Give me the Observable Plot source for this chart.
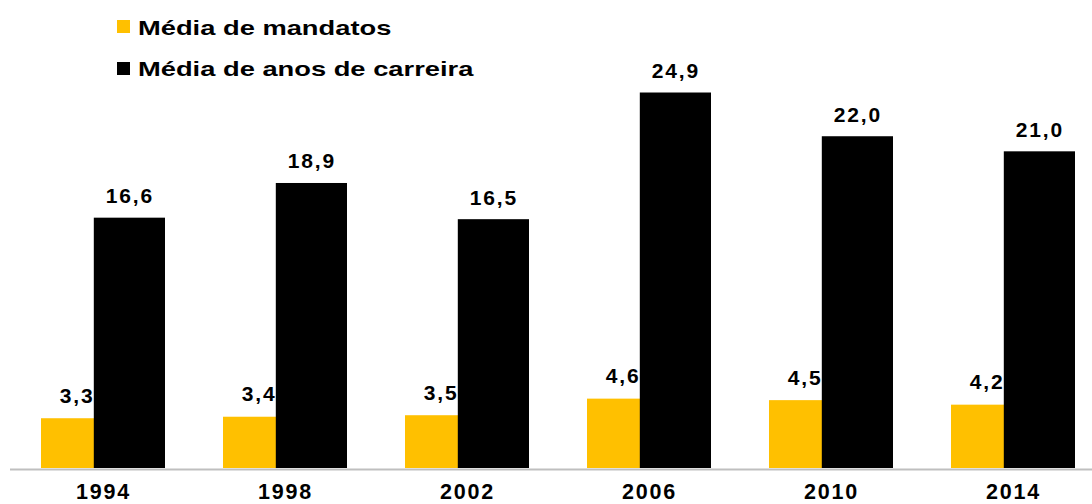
<!DOCTYPE html>
<html>
<head>
<meta charset="utf-8">
<script src="https://cdn.jsdelivr.net/npm/d3@7"></script>
<script src="https://cdn.jsdelivr.net/npm/@observablehq/plot@0.6"></script>
<style>
  html, body { margin: 0; padding: 0; background: #fff; }
  #wrap { position: relative; width: 1092px; height: 504px; overflow: hidden; font-family: "Liberation Sans", Arial, sans-serif; }
  .sw { position: absolute; width: 13px; height: 13px; }
  .lt { position: absolute; left: 138px; font-size: 21px; font-weight: bold; line-height: 21px; color: #000; white-space: nowrap; transform: scaleX(1.3); transform-origin: 0 50%; }
</style>
</head>
<body>
<div id="wrap"></div>
<script>
const years = ["1994", "1998", "2002", "2006", "2010", "2014"];
const mandatos = [3.3, 3.4, 3.5, 4.6, 4.5, 4.2];
const carreira = [16.6, 18.9, 16.5, 24.9, 22.0, 21.0];
const seriesNames = ["Média de mandatos", "Média de anos de carreira"];
const seriesColors = ["#FFC000", "#000000"];

const orangeRows = years.map((y, i) => ({year: y, value: mandatos[i]}));
const blackRows = years.map((y, i) => ({year: y, value: carreira[i]}));
const fmt = v => v.toFixed(1).replace(".", ",");

const inset = 52.8;
const labelFont = {fontSize: 21, fontWeight: "bold", fill: "#000", lineAnchor: "bottom", textAnchor: "middle"};

const chart = Plot.plot({
  width: 1092,
  height: 504,
  marginLeft: 10,
  marginRight: 0,
  marginTop: 0,
  marginBottom: 36,
  style: {fontFamily: "'Liberation Sans', Arial, sans-serif", letterSpacing: "1.8px", background: "#fff"},
  x: {domain: years, range: [-19.56, 1135.0], padding: 0.3197, align: 0.5, label: null},
  y: {domain: [0, 25], range: [468, 468 - 25 * 15.08], axis: null},
  marks: [
    Plot.barY(orangeRows, {x: "year", y: "value", fill: seriesColors[0], insetRight: inset}),
    Plot.text(orangeRows, {x: "year", y: "value", text: d => fmt(d.value), dx: -inset / 2, dy: -16, ...labelFont}),
    Plot.barY(blackRows, {x: "year", y: "value", fill: seriesColors[1], insetLeft: inset}),
    Plot.text(blackRows, {x: "year", y: "value", text: d => fmt(d.value), dx: inset / 2, dy: -15, ...labelFont}),
    Plot.ruleY([0], {stroke: "#bfbfbf", strokeWidth: 2, dy: 1}),
    Plot.axisX({anchor: "bottom", tickSize: 0, tickPadding: 15.5, fontSize: 21.5, fontWeight: "bold", fill: "#000", label: null})
  ]
});

const wrap = document.getElementById("wrap");
chart.style.position = "absolute";
chart.style.left = "0";
chart.style.top = "0";
wrap.appendChild(chart);

// legend (HTML, overlaid at top-left)
const legendTops = [17.2, 58.2];
const swatchTops = [20, 62];
seriesNames.forEach((name, i) => {
  const sw = document.createElement("div");
  sw.className = "sw";
  sw.style.left = "117px";
  sw.style.top = swatchTops[i] + "px";
  sw.style.background = seriesColors[i];
  wrap.appendChild(sw);
  const t = document.createElement("div");
  t.className = "lt";
  t.style.top = legendTops[i] + "px";
  t.textContent = name;
  wrap.appendChild(t);
});
</script>
</body>
</html>
